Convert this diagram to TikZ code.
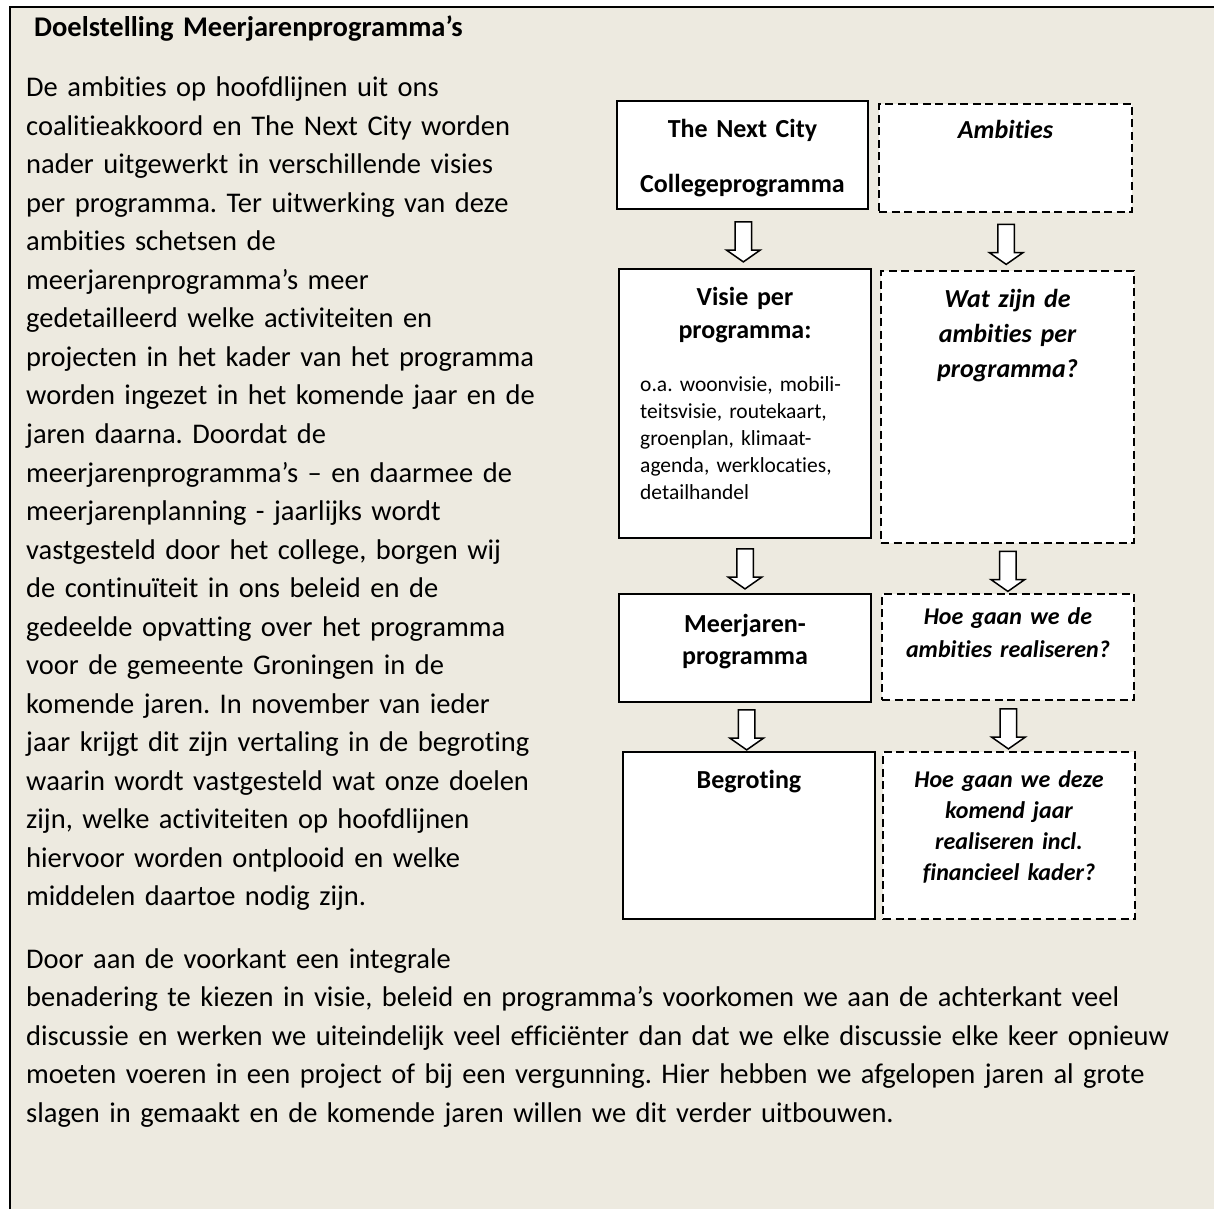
\documentclass[tikz,border=0pt]{standalone}
\usepackage{fontspec}
\setmainfont{Carlito}[Ligatures={NoCommon}]
\usepackage{xcolor}
\usetikzlibrary{shapes.arrows, positioning}
\definecolor{beige}{RGB}{237,234,224}
\frenchspacing

\begin{document}
\begin{tikzpicture}[x=1pt, y=-1pt,
  box/.style={draw, line width=2pt, fill=white, inner sep=0pt},
  dbox/.style={box, dash pattern=on 8pt off 4.5pt},
  barrow/.style={single arrow, draw, fill=white, line width=1.5pt, inner sep=7.5pt,
    minimum height=40pt, minimum width=32pt, single arrow head extend=8.5pt,
    single arrow tip angle=110, shape border rotate=270},
  body/.style={font=\fontsize{28.5}{38.5}\selectfont, inner sep=0pt, anchor=base west,
    align=left, text width=1300pt},
  lab/.style={font=\fontsize{26}{33}\selectfont\bfseries, inner sep=0pt, anchor=base,
    align=center, text width=240pt}]
\useasboundingbox (0,0) rectangle (1214,1209);
\fill[white] (0,0) rectangle (1214,1209);
\fill[beige] (10,7) rectangle (1214,1209);
\draw[line width=2.2pt] (10,1209) -- (10,7) -- (1214,7);
% tekst links
\node[body, font=\fontsize{28.5}{38.5}\selectfont\bfseries] (titel) at (34,37) {Doelstelling Meerjarenprogramma’s};
\node[body] (p1) at (26,97) {De ambities op hoofdlijnen uit ons\\
coalitieakkoord en The Next City worden\\
nader uitgewerkt in verschillende visies\\
per programma. Ter uitwerking van deze\\
ambities schetsen de\\
meerjarenprogramma’s meer\\
gedetailleerd welke activiteiten en\\
projecten in het kader van het programma\\
worden ingezet in het komende jaar en de\\
jaren daarna. Doordat de\\
meerjarenprogramma’s – en daarmee de\\
meerjarenplanning - jaarlijks wordt\\
vastgesteld door het college, borgen wij\\
de continuïteit in ons beleid en de\\
gedeelde opvatting over het programma\\
voor de gemeente Groningen in de\\
komende jaren. In november van ieder\\
jaar krijgt dit zijn vertaling in de begroting\\
waarin wordt vastgesteld wat onze doelen\\
zijn, welke activiteiten op hoofdlijnen\\
hiervoor worden ontplooid en welke\\
middelen daartoe nodig zijn.};
\node[body] (p2) at (26,968) {Door aan de voorkant een integrale\\
benadering te kiezen in visie, beleid en programma’s voorkomen we aan de achterkant veel\\
discussie en werken we uiteindelijk veel efficiënter dan dat we elke discussie elke keer opnieuw\\
moeten voeren in een project of bij een vergunning. Hier hebben we afgelopen jaren al grote\\
slagen in gemaakt en de komende jaren willen we dit verder uitbouwen.};
% blokken
\node[box, minimum width=251pt, minimum height=108pt] (b1) at (742.5,155) {};
\node[dbox, minimum width=253pt, minimum height=108pt] (b2) at (1005.5,158) {};
\node[box, minimum width=252pt, minimum height=269pt] (b3) at (745,403.5) {};
\node[dbox, minimum width=253pt, minimum height=272pt] (b4) at (1007.5,407) {};
\node[box, minimum width=252pt, minimum height=108pt] (b5) at (745,648) {};
\node[dbox, minimum width=252pt, minimum height=106pt] (b6) at (1008,647) {};
\node[box, minimum width=252pt, minimum height=167pt] (b7) at (749,835.5) {};
\node[dbox, minimum width=252pt, minimum height=167pt] (b8) at (1009,835.5) {};
\node[lab] (b1a) at (742.5,138) {The Next City};
\node[lab] (b1b) at (742.5,192) {Collegeprogramma};
\node[lab, font=\fontsize{26}{33}\selectfont\bfseries\itshape] (b2a) at (1005.5,139) {Ambities};
\node[lab] (b3a) at (745,305) {Visie per\\programma:};
\node[body, font=\fontsize{21.5}{27}\selectfont, text width=220pt] (b3b) at (640,391) {o.a. woonvisie, mobili-\\
teitsvisie, routekaart,\\
groenplan, klimaat-\\
agenda, werklocaties,\\
detailhandel};
\node[lab, font=\fontsize{26}{35}\selectfont\bfseries\itshape] (b4a) at (1007.5,307) {Wat zijn de\\ambities per\\programma?};
\node[lab, font=\fontsize{26}{32}\selectfont\bfseries] (b5a) at (745,632) {Meerjaren-\\programma};
\node[lab, font=\fontsize{24}{33}\selectfont\bfseries\itshape] (b6a) at (1008,624) {Hoe gaan we de\\ambities realiseren?};
\node[lab] (b7a) at (749,788) {Begroting};
\node[lab, font=\fontsize{24}{31}\selectfont\bfseries\itshape] (b8a) at (1009,787) {Hoe gaan we deze\\komend jaar\\realiseren incl.\\financieel kader?};
% pijlen
\path (b1) -- node[barrow] (a1) {} (b3);
\path (b2) -- node[barrow] (a2) {} (b4);
\path (b3) -- node[barrow] (a3) {} (b5);
\path (b4) -- node[barrow] (a4) {} (b6);
\path (b5) -- node[barrow] (a5) {} (b7);
\path (b6) -- node[barrow] (a6) {} (b8);
\end{tikzpicture}
\end{document}
